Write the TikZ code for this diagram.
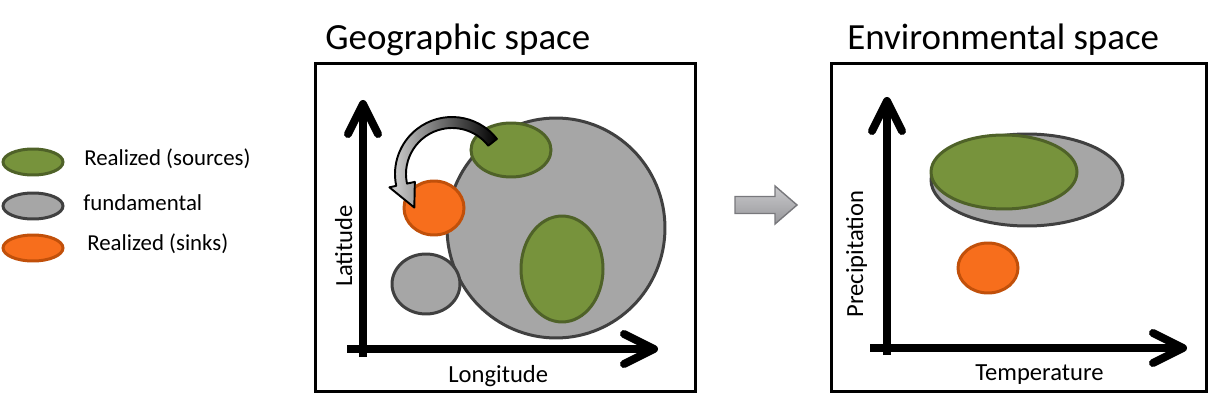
\documentclass[tikz,border=0pt]{standalone}
\usepackage{fontspec}
\setmainfont{Carlito}
\usetikzlibrary{shapes.geometric,arrows.meta,calc}

\definecolor{srcgreen}{RGB}{119,147,60}
\definecolor{srcline}{RGB}{79,98,40}
\definecolor{fundgray}{RGB}{166,166,166}
\definecolor{fundline}{RGB}{64,64,64}
\definecolor{sinkorange}{RGB}{247,110,28}
\definecolor{sinkline}{RGB}{193,80,10}
\definecolor{mapfill}{RGB}{178,178,182}
\definecolor{mapline}{RGB}{120,120,124}

\tikzset{
  blob/.style={ellipse, line width=0.06cm, inner sep=0pt},
  src/.style={blob, fill=srcgreen, draw=srcline},
  fund/.style={blob, fill=fundgray, draw=fundline},
  sink/.style={blob, fill=sinkorange, draw=sinkline},
  panel/.style={draw, line width=0.06cm},
  axis/.style={line width=0.16cm, -{Straight Barb[length=0.6cm,width=0.6cm,round]}},
  title/.style={font=\fontsize{21}{25}\selectfont, anchor=base west, inner sep=0pt},
  axlabel/.style={font=\fontsize{14}{17}\selectfont, anchor=base, inner sep=0pt},
  legtext/.style={font=\fontsize{13}{16}\selectfont, anchor=base west, inner sep=0pt},
}

\begin{document}
\begin{tikzpicture}[x=0.02cm, y=-0.02cm]
  \useasboundingbox (0,0) rectangle (1227,402);

  % legend
  \node[src,  minimum width=1.2cm, minimum height=0.52cm] (legsrc)  at (33,162) {};
  \node[fund, minimum width=1.2cm, minimum height=0.52cm] (legfund) at (33,206) {};
  \node[sink, minimum width=1.2cm, minimum height=0.52cm] (legsink) at (33,248) {};
  \node[legtext] (legsrctxt)  at (84,165) {Realized (sources)};
  \node[legtext] (legfundtxt) at (83,210) {fundamental};
  \node[legtext] (legsinktxt) at (87,250) {Realized (sinks)};

  % geographic space
  \node[title] (geotitle) at (325,50) {Geographic space};
  \draw[panel] (315,64) rectangle (695,391);
  \node[fund, minimum width=4.36cm, minimum height=4.4cm] (geofund) at (556,228) {};
  \node[src,  minimum width=1.6cm,  minimum height=1.08cm] (geosrcA) at (511,150) {};
  \node[src,  minimum width=1.64cm, minimum height=2.12cm] (geosrcB) at (562,269) {};
  \node[sink, minimum width=1.2cm,  minimum height=1.08cm] (geosink) at (434,208) {};
  \node[fund, minimum width=1.36cm, minimum height=1.2cm]  (geofundB) at (426,284) {};
  \coordinate (geoO) at (363,357);
  \coordinate (geoY) at (363,100);
  \coordinate (geoX0) at (347,349);
  \coordinate (geoX) at (658,349);
  \draw[axis] (geoO) -- (geoY);
  \draw[axis] (geoX0) -- (geoX);
  \node[axlabel, rotate=90] (geolat) at (352,246) {Latitude};
  \node[axlabel, anchor=base west] (geolon) at (448,382) {Longitude};

  % dispersal from source to sink
  \coordinate (bend) at (452,174);
  \draw[shade, left color=gray!35, right color=black, draw=black, line width=1.1pt, line join=round]
    ($(bend)+(-38:57)$) arc[start angle=-38, end angle=-192, radius=57]
    -- ($(bend)+(-192:64)$) -- ($(bend)+(-192:51)+(62:26)$)
    -- ($(bend)+(-192:38)$) -- ($(bend)+(-192:46)$)
    arc[start angle=-192, end angle=-38, radius=46] -- cycle;

  % mapping arrow
  \coordinate (mapto) at (766,205);
  \draw[top color=mapfill!70!white, bottom color=mapfill!85!black, draw=mapline, line width=0.8pt, line join=miter]
    ($(mapto)+(-31,-8.5)$) -- ($(mapto)+(9,-8.5)$) -- ($(mapto)+(9,-19)$) -- ($(mapto)+(31,0)$)
    -- ($(mapto)+(9,19)$) -- ($(mapto)+(9,8.5)$) -- ($(mapto)+(-31,8.5)$) -- cycle;

  % environmental space
  \node[title] (envtitle) at (847,50) {Environmental space};
  \draw[panel] (831,64) rectangle (1206,391);
  \node[fund, minimum width=3.84cm, minimum height=1.84cm] (envfund) at (1027,180) {};
  \node[src,  minimum width=2.92cm, minimum height=1.48cm] (envsrc)  at (1004,172) {};
  \node[sink, minimum width=1.2cm,  minimum height=1.0cm]  (envsink) at (988,268) {};
  \coordinate (envO) at (887,355);
  \coordinate (envY) at (887,97);
  \coordinate (envX0) at (870,348);
  \coordinate (envX) at (1187,348);
  \draw[axis] (envO) -- (envY);
  \draw[axis] (envX0) -- (envX);
  \node[axlabel, rotate=90] (envprec) at (863,254) {Precipitation};
  \node[axlabel, anchor=base west] (envtemp) at (975,380) {Temperature};
\end{tikzpicture}
\end{document}
